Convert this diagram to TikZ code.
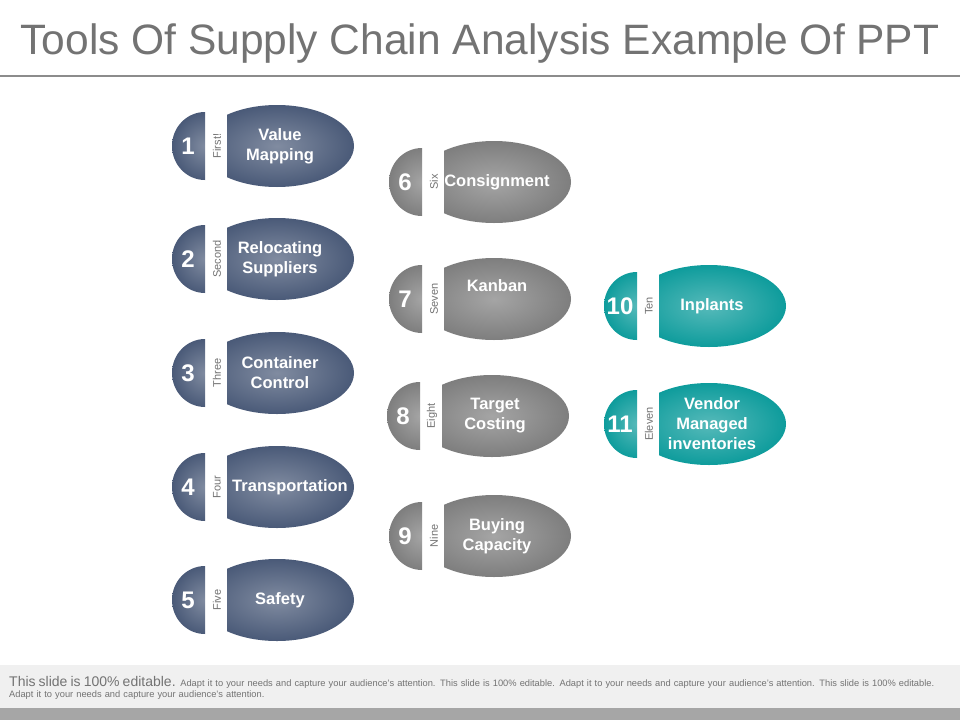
\documentclass[tikz,border=0pt]{standalone}
\usepackage{fontspec}
\setmainfont{Liberation Sans}
\begin{document}
\begin{tikzpicture}[x=1pt,y=-1pt,
  numtxt/.style={text=white,font=\bfseries\fontsize{24}{24}\selectfont},
  maintxt/.style={text=white,font=\bfseries\fontsize{16.5}{20}\selectfont,align=center},
  sidetxt/.style={text=black!55,font=\fontsize{11}{11}\selectfont,rotate=90}]
\useasboundingbox (0,0) rectangle (960,720);
\fill[white] (0,0) rectangle (960,720);
\node (title) at (480,44) {\textcolor{black!55}{\fontsize{42.5}{42.5}\selectfont Tools Of Supply Chain Analysis Example Of PPT}};
\draw[black!45,line width=2pt] (0,76) -- (960,76);
\fill[black!6] (0,665) rectangle (960,708);
\fill[black!35] (0,708) rectangle (960,720);
\node[anchor=north west,text width=940pt,align=left,inner sep=0pt,text=black!55,font=\fontsize{9.3}{11.5}\selectfont] (foot) at (9,676) {{\fontsize{14}{14}\selectfont This slide is 100\% editable.} Adapt it to your needs and capture your audience's attention. This slide is 100\% editable. Adapt it to your needs and capture your audience's attention. This slide is 100\% editable. Adapt it to your needs and capture your audience's attention.};
\newcommand\tool[7]{%
  \begin{scope}
    \clip (#1-40,#2-50) rectangle (#1,#2+50);
    \shade[inner color=#6!70!white,outer color=#6] (#1,#2) ellipse (33 and 34);
  \end{scope}
  \begin{scope}
    \clip (#1+22,#2-50) rectangle (#1+160,#2+50);
    \shade[inner color=#6!70!white,outer color=#6] (#1+72,#2) ellipse (77 and 41);
  \end{scope}
  \node[numtxt] (n#3) at (#1-17,#2) {#3};
  \node[sidetxt] (s#3) at (#1+12,#2) {#4};
  \node[maintxt] (m#3) at (#1+75,#2) {#5};
}
\definecolor{navy}{HTML}{4A5A78}
\definecolor{grey}{HTML}{7E7E7E}
\definecolor{teal}{HTML}{0E9C9C}
\tool{205}{146}{1}{First!}{Value\\Mapping}{navy}{}
\tool{205}{259}{2}{Second}{Relocating\\Suppliers}{navy}{}
\tool{205}{373}{3}{Three}{Container\\Control}{navy}{}
\tool{205}{487}{4}{Four}{\hspace*{20pt}Transportation}{navy}{}
\tool{205}{600}{5}{Five}{Safety}{navy}{}
\tool{422}{182}{6}{Six}{Consignment}{grey}{}
\tool{422}{299}{7}{Seven}{Kanban\\[6pt]}{grey}{}
\tool{420}{416}{8}{Eight}{Target\\Costing}{grey}{}
\tool{422}{536}{9}{Nine}{Buying\\Capacity}{grey}{}
\tool{637}{306}{10}{Ten}{Inplants}{teal}{}
\tool{637}{424}{11}{Eleven}{Vendor\\Managed\\inventories}{teal}{}
\end{tikzpicture}
\end{document}
